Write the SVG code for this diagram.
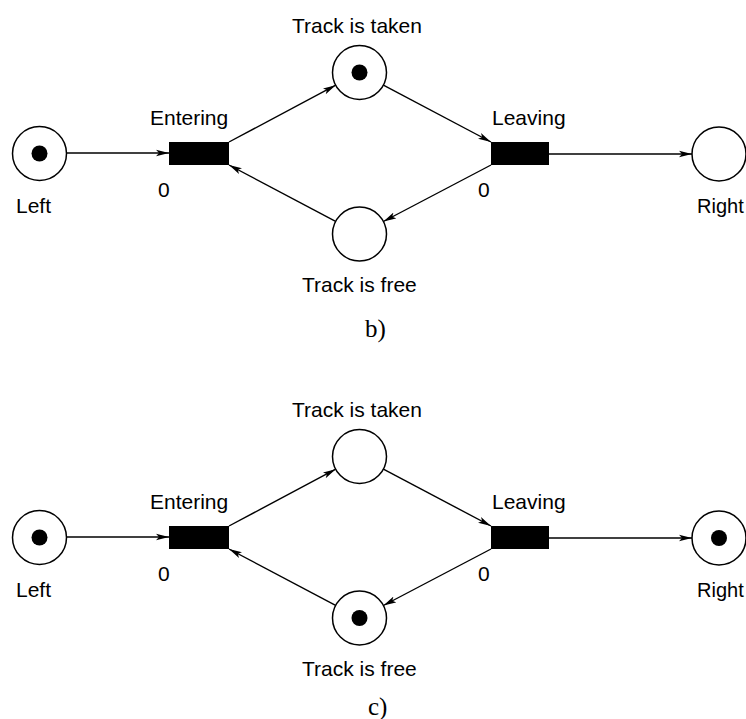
<svg xmlns="http://www.w3.org/2000/svg" width="746" height="719" viewBox="0 0 746 719">
  <style>
    .place { fill: #ffffff; stroke: #000000; stroke-width: 1.5; }
    .token { fill: #000000; }
    .trans { fill: #000000; }
    .arc { fill: none; stroke: #000000; stroke-width: 1.4; marker-end: url(#head); }
    .lbl { font-family: "Liberation Sans", Arial, sans-serif; font-size: 21px; fill: #000000; }
    .edge { font-size: 20px; }
    .cap { font-family: "Liberation Serif", "Times New Roman", serif; font-size: 25px; fill: #000000; }
  </style>
  <defs>
    <marker id="head" markerUnits="userSpaceOnUse" markerWidth="14" markerHeight="8" refX="13" refY="4" orient="auto">
      <path d="M0,0.8 L13,4 L0,7.2 L3,4 z" fill="#000000"/>
    </marker>
  </defs>

  <!-- Net b): train on the left, track taken -->
  <g id="net-b">
    <g id="b-arcs">
      <line class="arc" x1="67" y1="153" x2="169" y2="153"/>
      <line class="arc" x1="229" y1="142" x2="335.7" y2="85.2"/>
      <line class="arc" x1="383.4" y1="85.1" x2="491" y2="142"/>
      <line class="arc" x1="491" y1="165" x2="383.4" y2="221.5"/>
      <line class="arc" x1="335.6" y1="221.4" x2="229" y2="165"/>
      <line class="arc" x1="549" y1="154" x2="692" y2="154"/>
    </g>
    <g id="b-left">
      <circle class="place" cx="39.5" cy="153.5" r="27"/>
      <circle class="token" cx="39.5" cy="153.5" r="8"/>
      <text class="lbl" x="16" y="213">Left</text>
    </g>
    <g id="b-entering">
      <rect class="trans" x="169" y="142" width="60" height="23"/>
      <text class="lbl" x="150" y="125">Entering</text>
      <text class="lbl" x="158" y="197">0</text>
    </g>
    <g id="b-taken">
      <circle class="place" cx="359.5" cy="72.5" r="27"/>
      <circle class="token" cx="359.5" cy="72.5" r="8"/>
      <text class="lbl" x="292" y="33">Track is taken</text>
    </g>
    <g id="b-free">
      <circle class="place" cx="359.5" cy="234" r="27"/>
      <text class="lbl" x="302" y="292">Track is free</text>
    </g>
    <g id="b-leaving">
      <rect class="trans" x="491" y="142" width="58" height="23"/>
      <text class="lbl" x="492" y="125">Leaving</text>
      <text class="lbl" x="478" y="197">0</text>
    </g>
    <g id="b-right">
      <circle class="place" cx="719" cy="154" r="27"/>
      <text class="lbl edge" x="697" y="213">Right</text>
    </g>
    <text class="cap" x="365" y="337">b)</text>
  </g>

  <!-- Net c): train has passed, track free again -->
  <g id="net-c">
    <g transform="translate(0,384)">
      <g id="c-arcs">
        <line class="arc" x1="67" y1="153" x2="169" y2="153"/>
        <line class="arc" x1="229" y1="142" x2="335.7" y2="85.2"/>
        <line class="arc" x1="383.4" y1="85.1" x2="491" y2="142"/>
        <line class="arc" x1="491" y1="165" x2="383.4" y2="221.5"/>
        <line class="arc" x1="335.6" y1="221.4" x2="229" y2="165"/>
        <line class="arc" x1="549" y1="154" x2="692" y2="154"/>
      </g>
      <g id="c-left">
        <circle class="place" cx="39.5" cy="153.5" r="27"/>
        <circle class="token" cx="39.5" cy="153.5" r="8"/>
        <text class="lbl" x="16" y="213">Left</text>
      </g>
      <g id="c-entering">
        <rect class="trans" x="169" y="142" width="60" height="23"/>
        <text class="lbl" x="150" y="125">Entering</text>
        <text class="lbl" x="158" y="197">0</text>
      </g>
      <g id="c-taken">
        <circle class="place" cx="359.5" cy="72.5" r="27"/>
        <text class="lbl" x="292" y="33">Track is taken</text>
      </g>
      <g id="c-free">
        <circle class="place" cx="359.5" cy="234" r="27"/>
        <circle class="token" cx="359.5" cy="234" r="8"/>
        <text class="lbl" x="302" y="292">Track is free</text>
      </g>
      <g id="c-leaving">
        <rect class="trans" x="491" y="142" width="58" height="23"/>
        <text class="lbl" x="492" y="125">Leaving</text>
        <text class="lbl" x="478" y="197">0</text>
      </g>
      <g id="c-right">
        <circle class="place" cx="719" cy="154" r="27"/>
        <circle class="token" cx="719" cy="154" r="8"/>
        <text class="lbl edge" x="697" y="213">Right</text>
      </g>
    </g>
    <text class="cap" x="368" y="715">c)</text>
  </g>
</svg>
